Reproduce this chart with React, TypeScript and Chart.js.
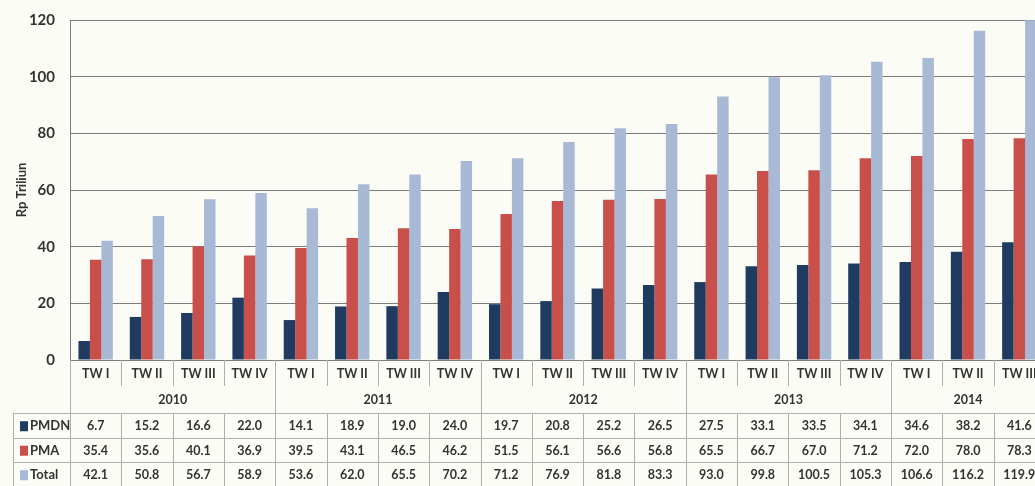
import React, { useEffect, useRef } from "react";
import { Chart, registerables } from "chart.js";

Chart.register(...registerables);

const quarters = ["TW I", "TW II", "TW III", "TW IV", "TW I", "TW II", "TW III", "TW IV", "TW I", "TW II", "TW III", "TW IV", "TW I", "TW II", "TW III", "TW IV", "TW I", "TW II", "TW III"];
const years = ["2010", "2011", "2012", "2013", "2014"];
const quartersPerYear = [4, 4, 4, 4, 3];
const pmdn = [6.7, 15.2, 16.6, 22.0, 14.1, 18.9, 19.0, 24.0, 19.7, 20.8, 25.2, 26.5, 27.5, 33.1, 33.5, 34.1, 34.6, 38.2, 41.6];
const pma = [35.4, 35.6, 40.1, 36.9, 39.5, 43.1, 46.5, 46.2, 51.5, 56.1, 56.6, 56.8, 65.5, 66.7, 67.0, 71.2, 72.0, 78.0, 78.3];
const total = [42.1, 50.8, 56.7, 58.9, 53.6, 62.0, 65.5, 70.2, 71.2, 76.9, 81.8, 83.3, 93.0, 99.8, 100.5, 105.3, 106.6, 116.2, 119.9];
const seriesNames = ["PMDN", "PMA", "Total"];
const seriesColors = ["#1f3b5f", "#c84f4a", "#a8b9d5"];
const yTicks = [0, 20, 40, 60, 80, 100, 120];

const FONT = "Lato, 'Open Sans', sans-serif";
const TEXT = "#333333";
const GRID = "#7c7c7c";
const TABLE = "#b0b0b0";

const tablePlugin = {
  id: "dataTable",
  afterDraw(chart: any) {
    const ctx = chart.ctx as CanvasRenderingContext2D;
    const xs = chart.scales.x;
    const area = chart.chartArea;
    const n = quarters.length;
    const step = xs.getPixelForValue(1) - xs.getPixelForValue(0);
    const half = step / 2;
    const bottom = area.bottom;
    const catY = bottom + 14;
    const yearY = bottom + 40;
    const tableTop = bottom + 53;
    const rowH = 24.5;
    const tableLeft = 13;
    const rightEdge = chart.width;
    const values = [pmdn, pma, total];

    ctx.save();
    ctx.strokeStyle = TABLE;
    ctx.lineWidth = 1;

    const yearStarts: number[] = [];
    let acc = 0;
    quartersPerYear.forEach((c) => {
      yearStarts.push(acc);
      acc += c;
    });

    for (let i = 0; i <= n; i++) {
      const x = Math.round(xs.getPixelForValue(0) - half + i * step) + 0.5;
      const isYear = i === 0 || yearStarts.includes(i) || i === n;
      ctx.beginPath();
      ctx.moveTo(x, bottom);
      ctx.lineTo(x, isYear ? tableTop : bottom + 26);
      ctx.stroke();
    }

    ctx.beginPath();
    for (let r = 0; r <= 3; r++) {
      const y = Math.round(tableTop + r * rowH) + 0.5;
      ctx.moveTo(tableLeft, y);
      ctx.lineTo(rightEdge, y);
    }
    const tl = tableLeft + 0.5;
    ctx.moveTo(tl, tableTop);
    ctx.lineTo(tl, tableTop + 3 * rowH + 2);
    for (let i = 0; i <= n; i++) {
      const x = Math.round(xs.getPixelForValue(0) - half + i * step) + 0.5;
      ctx.moveTo(x, tableTop);
      ctx.lineTo(x, tableTop + 3 * rowH + 2);
    }
    ctx.stroke();

    ctx.fillStyle = TEXT;
    ctx.textAlign = "center";
    ctx.textBaseline = "middle";
    ctx.font = `bold 12.5px ${FONT}`;
    quarters.forEach((q, i) => {
      ctx.fillText(q, xs.getPixelForValue(i), catY);
    });

    years.forEach((y, k) => {
      const s = yearStarts[k];
      const e = s + quartersPerYear[k] - 1;
      const cx = (xs.getPixelForValue(s) + xs.getPixelForValue(e)) / 2;
      ctx.fillText(y, cx, yearY);
    });

    values.forEach((vals, r) => {
      const cy = tableTop + r * rowH + rowH / 2 + 1;
      ctx.fillStyle = seriesColors[r];
      ctx.fillRect(20, cy - 5, 8, 10);
      ctx.fillStyle = TEXT;
      ctx.textAlign = "left";
      ctx.font = `bold 13px ${FONT}`;
      ctx.fillText(seriesNames[r], 30, cy);
      ctx.textAlign = "center";
      ctx.font = `bold 12.5px ${FONT}`;
      vals.forEach((v, i) => {
        ctx.fillText(v.toFixed(1), xs.getPixelForValue(i), cy);
      });
    });
    ctx.restore();
  },
};

const bgPlugin = {
  id: "bg",
  beforeDraw(chart: any) {
    const ctx = chart.ctx as CanvasRenderingContext2D;
    ctx.save();
    ctx.fillStyle = "#fcfcf7";
    ctx.fillRect(0, 0, chart.width, chart.height);
    ctx.restore();
  },
};

export default function App() {
  const ref = useRef<HTMLCanvasElement | null>(null);
  useEffect(() => {
    if (!ref.current) return;
    const chart = new Chart(ref.current, {
      type: "bar",
      data: {
        labels: quarters,
        datasets: [pmdn, pma, total].map((d, i) => ({
          label: seriesNames[i],
          data: d,
          backgroundColor: seriesColors[i],
          borderWidth: 0,
          barPercentage: 1,
          categoryPercentage: 0.67,
        })),
      },
      options: {
        animation: false,
        responsive: false,
        maintainAspectRatio: false,
        layout: { padding: { top: 20, left: 0, right: 5, bottom: 0 } },
        plugins: {
          legend: { display: false },
          tooltip: { enabled: false },
        },
        scales: {
          x: {
            ticks: { display: false },
            grid: { display: false },
            border: { display: false },
            afterFit: (s: any) => {
              s.height = 126;
              s.paddingLeft = 0;
              s.paddingRight = 0;
            },
          },
          y: {
            min: 0,
            max: 120,
            afterBuildTicks: (s: any) => {
              s.ticks = yTicks.map((v) => ({ value: v }));
            },
            ticks: {
              padding: 15,
              color: TEXT,
              font: { family: FONT, size: 15, weight: "bold" },
            },
            grid: { color: GRID, drawTicks: false, lineWidth: 1 },
            border: { display: true, color: GRID },
            title: {
              display: true,
              text: "Rp Triliun",
              color: TEXT,
              font: { family: FONT, size: 13, weight: "bold" },
              padding: { top: 14, bottom: 0 },
            },
            afterFit: (s: any) => {
              s.width = 70;
              s.paddingTop = 0;
              s.paddingBottom = 0;
            },
          },
        },
      },
      plugins: [bgPlugin, tablePlugin],
    });
    return () => chart.destroy();
  }, []);
  return (
    <div style={{ position: "absolute", left: 0, top: 0, width: 1035, height: 486, overflow: "hidden", background: "#fcfcf7" }}>
      <canvas ref={ref} width={1050} height={486} style={{ width: 1050, height: 486, display: "block" }} />
    </div>
  );
}
